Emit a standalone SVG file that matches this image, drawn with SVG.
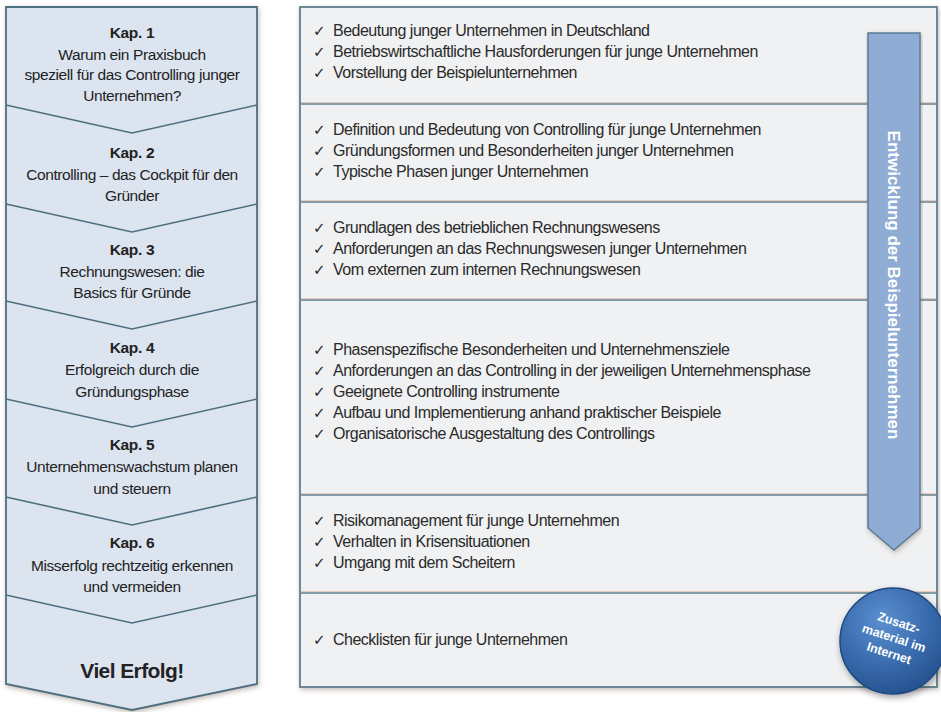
<svg xmlns="http://www.w3.org/2000/svg" width="941" height="712" viewBox="0 0 941 712">
<defs>
<filter id="sh" x="-5%" y="-5%" width="110%" height="110%">
<feDropShadow dx="1" dy="2" stdDeviation="2.5" flood-color="#7a6a60" flood-opacity="0.45"/>
</filter>
<filter id="sh2" x="-20%" y="-20%" width="140%" height="140%">
<feDropShadow dx="1" dy="3" stdDeviation="3" flood-color="#000" flood-opacity="0.35"/>
</filter>
<radialGradient id="cg" cx="0.4" cy="0.3" r="0.75">
<stop offset="0" stop-color="#5b8fd0"/>
<stop offset="0.6" stop-color="#3769ab"/>
<stop offset="1" stop-color="#24508c"/>
</radialGradient>
<style>
.lt{font-family:"Liberation Sans",Arial,sans-serif;font-size:15.5px;fill:#222;text-anchor:middle;letter-spacing:-0.4px}
.kap{font-weight:bold;letter-spacing:-0.3px}
.rt{font-family:"Liberation Sans",Arial,sans-serif;font-size:16px;fill:#2a2a2a;letter-spacing:-0.5px}
.ck{font-family:"DejaVu Sans",sans-serif;font-size:15px;fill:#2a2a2a}
.sep{stroke:#5f7f8c;stroke-width:1.6;fill:none}
.sepw{stroke:#e9c9b8;stroke-width:1;fill:none}
.chev{stroke:#4e6f7e;stroke-width:1.6;fill:none}
</style>
</defs>

<g id="left-column">
<path d="M6,7 L257,7 L257,684 L132,710 L6,684 Z" fill="#dce4f0" stroke="#4e6f7e" stroke-width="1.8" filter="url(#sh)"/>
<g class="chev-lines">
<path class="chev" d="M6,105 L132,133 L257,105"/>
<path class="chev" d="M6,204 L132,232 L257,204"/>
<path class="chev" d="M6,301 L132,329 L257,301"/>
<path class="chev" d="M6,399 L132,427 L257,399"/>
<path class="chev" d="M6,497 L132,525 L257,497"/>
<path class="chev" d="M6,595 L132,623 L257,595"/>
</g>
</g>

<g id="kap1">
<text class="lt kap" x="132" y="38">Kap. 1</text>
<text class="lt" x="132" y="60">Warum ein Praxisbuch</text>
<text class="lt" x="132" y="80">speziell für das Controlling junger</text>
<text class="lt" x="132" y="101">Unternehmen?</text>
</g>
<g id="kap2">
<text class="lt kap" x="132" y="158">Kap. 2</text>
<text class="lt" x="132" y="180">Controlling – das Cockpit für den</text>
<text class="lt" x="132" y="201">Gründer</text>
</g>
<g id="kap3">
<text class="lt kap" x="132" y="255">Kap. 3</text>
<text class="lt" x="132" y="277">Rechnungswesen: die</text>
<text class="lt" x="132" y="298">Basics für Gründe</text>
</g>
<g id="kap4">
<text class="lt kap" x="132" y="353">Kap. 4</text>
<text class="lt" x="132" y="375">Erfolgreich durch die</text>
<text class="lt" x="132" y="397">Gründungsphase</text>
</g>
<g id="kap5">
<text class="lt kap" x="132" y="450">Kap. 5</text>
<text class="lt" x="132" y="472">Unternehmenswachstum planen</text>
<text class="lt" x="132" y="494">und steuern</text>
</g>
<g id="kap6">
<text class="lt kap" x="132" y="548">Kap. 6</text>
<text class="lt" x="132" y="571">Misserfolg rechtzeitig erkennen</text>
<text class="lt" x="132" y="592">und vermeiden</text>
</g>
<g id="viel-erfolg">
<text class="lt kap" x="132" y="678" style="font-size:21px;letter-spacing:-0.6px">Viel Erfolg!</text>
</g>

<g id="right-panel">
<rect x="300" y="7" width="637" height="680" fill="#f0f1f2" stroke="#5f7f8c" stroke-width="1.8" filter="url(#sh)"/>
<g class="separators">
<line class="sepw" x1="301" y1="102.5" x2="936" y2="102.5"/>
<line class="sep" x1="301" y1="104" x2="936" y2="104"/>
<line class="sepw" x1="301" y1="200.5" x2="936" y2="200.5"/>
<line class="sep" x1="301" y1="202" x2="936" y2="202"/>
<line class="sepw" x1="301" y1="298.5" x2="936" y2="298.5"/>
<line class="sep" x1="301" y1="300" x2="936" y2="300"/>
<line class="sepw" x1="301" y1="493.5" x2="936" y2="493.5"/>
<line class="sep" x1="301" y1="495" x2="936" y2="495"/>
<line class="sepw" x1="301" y1="591.5" x2="936" y2="591.5"/>
<line class="sep" x1="301" y1="593" x2="936" y2="593"/>
</g>
</g>

<g id="section1">
<text class="ck" x="313" y="36">✓</text><text class="rt" x="333" y="36">Bedeutung junger Unternehmen in Deutschland</text>
<text class="ck" x="313" y="57">✓</text><text class="rt" x="333" y="57">Betriebswirtschaftliche Hausforderungen für junge Unternehmen</text>
<text class="ck" x="313" y="78">✓</text><text class="rt" x="333" y="78">Vorstellung der Beispielunternehmen</text>
</g>
<g id="section2">
<text class="ck" x="313" y="135">✓</text><text class="rt" x="333" y="135">Definition und Bedeutung von Controlling für junge Unternehmen</text>
<text class="ck" x="313" y="156">✓</text><text class="rt" x="333" y="156">Gründungsformen und Besonderheiten junger Unternehmen</text>
<text class="ck" x="313" y="177">✓</text><text class="rt" x="333" y="177">Typische Phasen junger Unternehmen</text>
</g>
<g id="section3">
<text class="ck" x="313" y="233">✓</text><text class="rt" x="333" y="233">Grundlagen des betrieblichen Rechnungswesens</text>
<text class="ck" x="313" y="254">✓</text><text class="rt" x="333" y="254">Anforderungen an das Rechnungswesen junger Unternehmen</text>
<text class="ck" x="313" y="275">✓</text><text class="rt" x="333" y="275">Vom externen zum internen Rechnungswesen</text>
</g>
<g id="section4">
<text class="ck" x="313" y="355">✓</text><text class="rt" x="333" y="355">Phasenspezifische Besonderheiten und Unternehmensziele</text>
<text class="ck" x="313" y="376">✓</text><text class="rt" x="333" y="376">Anforderungen an das Controlling in der jeweiligen Unternehmensphase</text>
<text class="ck" x="313" y="397">✓</text><text class="rt" x="333" y="397">Geeignete Controlling instrumente</text>
<text class="ck" x="313" y="418">✓</text><text class="rt" x="333" y="418">Aufbau und Implementierung anhand praktischer Beispiele</text>
<text class="ck" x="313" y="439">✓</text><text class="rt" x="333" y="439">Organisatorische Ausgestaltung des Controllings</text>
</g>
<g id="section5">
<text class="ck" x="313" y="526">✓</text><text class="rt" x="333" y="526">Risikomanagement für junge Unternehmen</text>
<text class="ck" x="313" y="547">✓</text><text class="rt" x="333" y="547">Verhalten in Krisensituationen</text>
<text class="ck" x="313" y="568">✓</text><text class="rt" x="333" y="568">Umgang mit dem Scheitern</text>
</g>
<g id="section6">
<text class="ck" x="313" y="645">✓</text><text class="rt" x="333" y="645">Checklisten für junge Unternehmen</text>
</g>

<g id="development-arrow">
<path d="M868,33 L920,33 L920,528 L894,550 L868,528 Z" fill="#8fadd4" stroke="#5a7c94" stroke-width="1.5" filter="url(#sh)"/>
<text transform="translate(894,285) rotate(90)" x="0" y="6" text-anchor="middle" style="font-family:'Liberation Sans',Arial,sans-serif;font-size:17px;font-weight:bold;fill:#ffffff">Entwicklung der Beispielunternehmen</text>
</g>

<g id="zusatz-badge">
<circle cx="893" cy="641" r="53" fill="url(#cg)" stroke="#1f4a80" stroke-width="1.5" filter="url(#sh2)"/>
<g transform="translate(893,641) rotate(18)" style="font-family:'Liberation Sans',Arial,sans-serif;font-size:12.5px;font-weight:bold;fill:#ffffff" text-anchor="middle">
<text x="0" y="-15">Zusatz-</text>
<text x="0" y="1">material im</text>
<text x="0" y="17">Internet</text>
</g>
</g>
</svg>
